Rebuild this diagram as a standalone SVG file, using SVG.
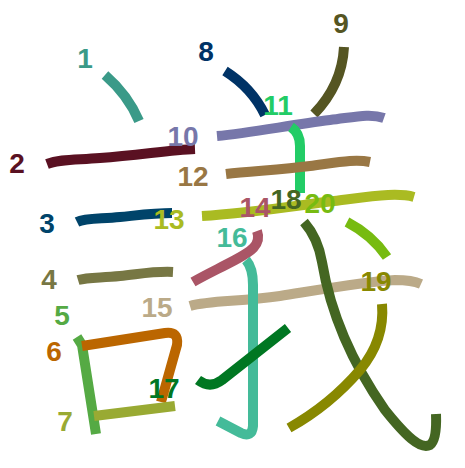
<svg xmlns="http://www.w3.org/2000/svg" width="465" height="468" viewBox="0 0 465 468">
<style>
path{fill:none;stroke-width:10;stroke-linecap:butt;stroke-linejoin:round}
text{font-family:"Liberation Sans",Arial,sans-serif;font-weight:bold;font-size:28px;text-anchor:middle}
</style>
<rect width="465" height="468" fill="#fff"/>
<g id="s1"><path d="M105,75 Q128,95 139,121" stroke="#3a9a88"/><text x="85" y="68" fill="#3a9a88">1</text></g>
<g id="s2"><path d="M47,164 C60,159 75,160 100,158 C140,155 170,150 195,149" stroke="#5a1122"/><text x="17" y="173" fill="#5a1122">2</text></g>
<g id="s3"><path d="M77,222 C85,218 100,219 120,217 C140,215 155,213 172,213" stroke="#00446a"/><text x="47" y="233" fill="#00446a">3</text></g>
<g id="s4"><path d="M78,280 C88,277 100,278 120,276 C140,274 155,271 173,272" stroke="#777744"/><text x="49" y="289" fill="#777744">4</text></g>
<g id="s5"><path d="M77,337 L82,345 L96,434" stroke="#55aa44"/><text x="62" y="325" fill="#55aa44">5</text></g>
<g id="s6"><path d="M82,346 L165,333 Q179,331 177,345 L161,402" stroke="#bb6600"/><text x="54" y="361" fill="#bb6600">6</text></g>
<g id="s7"><path d="M94,416 L175,406" stroke="#99aa33"/><text x="65" y="431" fill="#99aa33">7</text></g>
<g id="s8"><path d="M225,71 Q252,88 265,115" stroke="#003366"/><text x="206" y="61" fill="#003366">8</text></g>
<g id="s9"><path d="M344,47 Q342,85 314,114" stroke="#555522"/><text x="341" y="33" fill="#555522">9</text></g>
<g id="s10"><path d="M217,136 C250,133 290,125 330,120 C355,117 370,113 384,118" stroke="#7777aa"/><text x="183" y="146" fill="#7777aa">10</text></g>
<g id="s11"><path d="M291,127 Q300,133 300,146 L300,193" stroke="#22cc66"/><text x="278" y="115" fill="#22cc66">11</text></g>
<g id="s12"><path d="M226,174 C250,171 280,170 310,166 C340,162 355,159 370,162" stroke="#997744"/><text x="193" y="186" fill="#997744">12</text></g>
<g id="s13"><path d="M202,216 C250,213 300,205 350,199 C380,195 400,193 414,197" stroke="#aabb22"/><text x="169" y="229" fill="#aabb22">13</text></g>
<g id="s14"><path d="M257,231 C262,245 250,252 235,260 C220,268 205,275 193,282" stroke="#aa5566"/><text x="255" y="217" fill="#aa5566">14</text></g>
<g id="s15"><path d="M190,306 C210,300 240,302 280,296 C330,288 370,281 395,280 Q412,280 421,284" stroke="#bbaa88"/><text x="157" y="317" fill="#bbaa88">15</text></g>
<g id="s16"><path d="M246,260 Q253,268 253,285 L253,426 Q252,438 241,433 L218,421" stroke="#44bb99"/><text x="232" y="247" fill="#44bb99">16</text></g>
<g id="s17"><path d="M198,380 Q210,389 222,380 L288,328" stroke="#007722"/><text x="164" y="398" fill="#007722">17</text></g>
<g id="s18"><path d="M304,222 Q318,238 322,262 C330,310 350,360 385,410 C405,435 420,450 430,445 Q437,440 436,414" stroke="#446622"/><text x="286" y="209" fill="#446622">18</text></g>
<g id="s19"><path d="M382,304 Q385,340 360,370 Q330,405 289,428" stroke="#888800"/><text x="376" y="291" fill="#888800">19</text></g>
<g id="s20"><path d="M347,222 Q372,235 387,257" stroke="#77bb11"/><text x="320" y="213" fill="#77bb11">20</text></g>
</svg>
